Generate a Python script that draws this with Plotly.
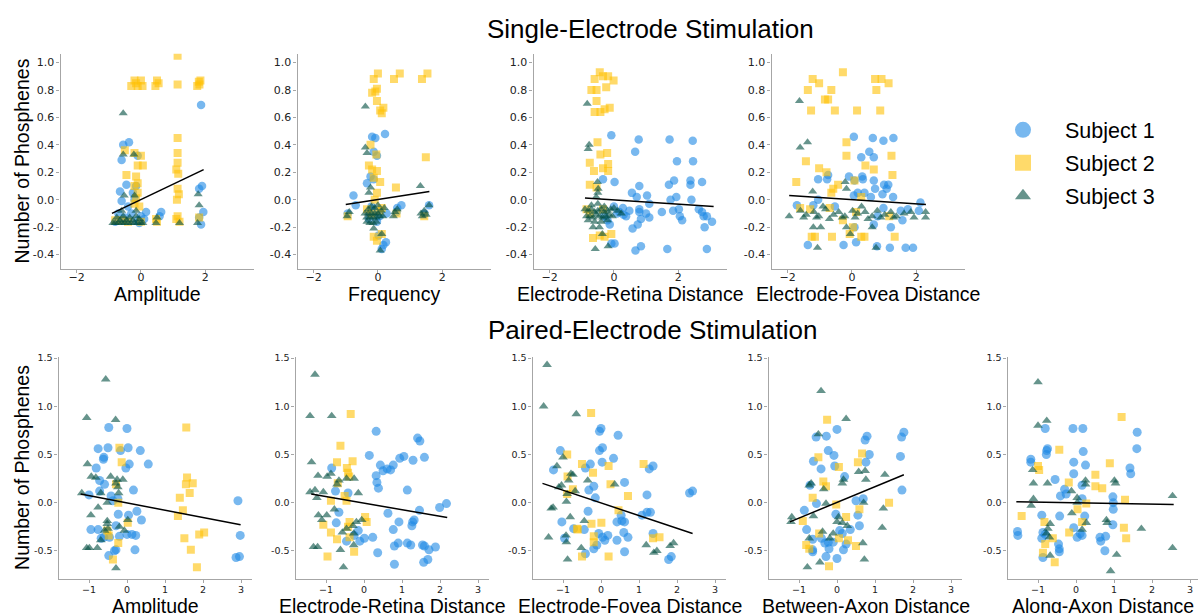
import plotly.graph_objects as go

# ---------------- DATA ----------------
subjects = ["Subject 1", "Subject 2", "Subject 3"]
colors = ["#1E88E5", "#FFC107", "#004D40"]
symbols = ["circle", "square", "triangle-up"]

top_labels = ["Amplitude", "Frequency", "Electrode-Retina Distance", "Electrode-Fovea Distance"]
bot_labels = ["Amplitude", "Electrode-Retina Distance", "Electrode-Fovea Distance",
              "Between-Axon Distance", "Along-Axon Distance"]

top_yticks = [-0.4, -0.2, 0.0, 0.2, 0.4, 0.6, 0.8, 1.0]
top_yticktext = ["-0.4", "-0.2", "0.0", "0.2", "0.4", "0.6", "0.8", "1.0"]
top_xticks = [-2, 0, 2]
top_xticktext = ["\u22122", "0", "2"]
bot_yticks = [-0.5, 0.0, 0.5, 1.0, 1.5]
bot_yticktext = ["-0.5", "0.0", "0.5", "1.0", "1.5"]
bot_xticks = [-1, 0, 1, 2, 3]
bot_xticktext = ["\u22121", "0", "1", "2", "3"]

# --- Single-electrode: Amplitude
t_amp_s1_x = [-0.55, -0.37, -0.6, -0.1, -0.45, -0.65, -0.15, -0.2, -0.6, 0.16, 0.63, 0.58, 1.87, 1.9, 1.81, 1.94, 1.81, 1.87,
              -0.7, -0.5, -0.3, -0.1, 0.0, -0.8, -0.4, -0.25, 0.1, -0.55, -0.05]
t_amp_s1_y = [0.40, 0.42, 0.29, 0.32, 0.11, 0.06, 0.10, 0.00, -0.01, -0.09, -0.09, -0.12, 0.69, 0.10, 0.08, -0.09, -0.13, -0.18,
              -0.10, -0.13, -0.10, -0.15, -0.12, -0.16, -0.05, 0.05, -0.14, -0.15, -0.17]
t_amp_s2_x = [-0.3, -0.2, -0.1, 0.0, 0.05, -0.15, 0.45, 0.5, 0.55, 1.14, 1.14, 1.75, 1.8, 1.85, 1.82,
              1.14, 1.14, 1.14, 1.1, 1.16, 1.14, 1.18, 1.12, 1.14, 1.2, 1.1,
              -0.2, 0.0, -0.1, 0.06, -0.45, -0.15, -0.1, -0.2, -0.1, -0.15, -0.2, -0.05, -0.5,
              0.47, 0.5, 1.81, -0.8, -0.4, 0.0, -0.6]
t_amp_s2_y = [0.83, 0.87, 0.83, 0.87, 0.83, 0.85, 0.83, 0.87, 0.85, 1.05, 0.84, 0.83, 0.86, 0.87, 0.84,
              0.45, 0.34, 0.27, 0.22, 0.19, 0.08, 0.04, 0.00, -0.12, -0.16, -0.14,
              0.34, 0.32, 0.25, 0.25, 0.18, 0.17, 0.12, 0.10, 0.05, 0.01, -0.03, -0.05, 0.36,
              -0.14, -0.16, -0.13, -0.15, -0.16, -0.16, -0.15]
t_amp_s3_x = [-0.55, -0.55, -0.22, -0.52, -0.2, -0.87, -0.8, -0.7, -0.6, -0.5, -0.4, -0.3, -0.2, -0.1, 0.0, 0.06,
              -0.75, -0.55, -0.35, -0.15, -0.05, -0.65, -0.45, -0.25, 0.47, 0.5, 1.78, 1.81, 1.76, 1.2, -0.6, -0.15]
t_amp_s3_y = [0.63, 0.33, 0.33, 0.03, 0.03, -0.17, -0.17, -0.17, -0.17, -0.17, -0.17, -0.17, -0.17, -0.17, -0.17, -0.17,
              -0.13, -0.12, -0.13, -0.12, -0.14, -0.15, -0.15, -0.15, -0.17, -0.13, 0.04, -0.04, -0.17, -0.17, -0.08, -0.08]

# --- Single-electrode: Frequency
t_frq_s1_x = [-0.18, -0.08, 0.22, -0.13, -0.03, -0.23, -0.34, -0.13, -0.76, -0.69, 0.73, 0.58, 1.59, 0.27, -0.03, 0.02,
              0.25, 0.17, 0.12, -0.28, -0.94, -0.1, 0.05, -0.2, 1.45, 0.6]
t_frq_s1_y = [0.46, 0.45, 0.48, 0.35, 0.32, 0.17, 0.12, 0.15, 0.03, -0.04, -0.04, -0.09, -0.04, -0.10, -0.16, -0.26,
              -0.31, -0.33, -0.36, -0.14, -0.10, -0.08, -0.12, -0.05, -0.10, -0.06]
t_frq_s2_x = [-0.13, 0.0, 0.5, 0.68, 1.37, 1.54, -0.03, -0.18, -0.08, -0.03, 0.07, 0.17, 0.12, -0.23, -0.05, 1.49,
              -0.28, -0.18, -0.03, -0.13, 0.07, -0.03, 0.56, -0.34, 0.12, -0.13, -0.03, 0.12, 0.58, 1.44, -0.94, -0.2,
              0.05, -0.1]
t_frq_s2_y = [0.88, 0.92, 0.88, 0.92, 0.88, 0.92, 0.81, 0.78, 0.79, 0.72, 0.65, 0.67, 0.63, 0.40, 0.33, 0.31,
              0.25, 0.22, 0.21, 0.16, 0.13, 0.05, 0.09, -0.07, -0.06, -0.27, -0.30, -0.25, -0.10, -0.12, -0.12, -0.10,
              -0.08, 0.0]
t_frq_s3_x = [-0.39, -0.39, -0.34, -0.23, -0.28, 1.32, -0.96, -0.89, 0.53, 0.48, 1.34, 1.44, 1.59, -0.13, 0.12, 0.07,
              -0.34, -0.4, -0.3, -0.2, -0.1, 0.0, 0.1, 0.2, -0.35, -0.25, -0.15, -0.05, 0.05, 0.15, -0.3, -0.2, -0.1,
              0.0, -0.25, -0.15, -0.05, 1.38, 1.5, 0.6]
t_frq_s3_y = [0.68, 0.38, 0.34, 0.09, 0.05, 0.10, -0.12, -0.09, -0.09, -0.12, -0.10, -0.08, -0.04, -0.21, -0.25, -0.37,
              -0.16, -0.10, -0.10, -0.10, -0.10, -0.10, -0.08, -0.06, -0.13, -0.13, -0.13, -0.13, -0.12, -0.12, -0.07,
              -0.05, -0.06, -0.04, -0.17, -0.17, -0.16, -0.12, -0.11, -0.07]

# --- Single-electrode: Electrode-Retina Distance
t_ret_s1_x = [-0.08, 0.77, 1.73, 2.45, 0.66, 1.96, 2.46, -0.34, 0.02, 1.71, 1.87, 2.38, 2.38, 2.74, 0.79, 0.56, 0.71,
              1.03, 1.76, 1.94, 2.41, 0.0, 0.28, 0.48, 0.79, 1.1, 1.84, 2.02, 2.64, 2.74, 1.49, 2.05, 2.79, 2.12, 2.89,
              3.05, 2.82, 1.1, 0.84, 0.74, 0.58, 0.38, -0.13, 0.02, -0.08, 0.67, 0.84, 1.66, 2.89, 0.79, 0.17, -0.3,
              -0.2, 0.1, 0.3, 1.0]
t_ret_s1_y = [0.47, 0.44, 0.44, 0.43, 0.35, 0.28, 0.28, 0.15, 0.13, 0.11, 0.14, 0.14, 0.11, 0.13, 0.10, 0.05, 0.02,
              0.03, 0.0, 0.02, 0.0, -0.05, -0.06, -0.08, -0.07, -0.03, -0.08, -0.07, -0.07, -0.09, -0.09, -0.12, -0.12,
              -0.15, -0.12, -0.16, -0.20, -0.13, -0.14, -0.18, -0.21, -0.12, -0.18, -0.32, -0.32, -0.37, -0.34, -0.36,
              -0.36, -0.09, -0.09, -0.12, -0.15, -0.10, -0.11, -0.10]
t_ret_s2_x = [-0.44, -0.6, -0.34, -0.18, -0.01, -0.24, -0.7, -0.54, -0.54, -0.6, -0.42, -0.29, -0.13, -0.51, -0.42,
              -0.21, -0.75, -0.62, -0.34, -0.18, -0.18, -0.75, -0.54, -0.85, -0.65, -0.44, -0.08, -0.29, -0.34, -0.75]
t_ret_s2_y = [0.93, 0.88, 0.90, 0.90, 0.87, 0.82, 0.80, 0.80, 0.72, 0.64, 0.64, 0.66, 0.67, 0.42, 0.33,
              0.34, 0.27, 0.21, 0.23, 0.26, 0.21, 0.11, 0.09, -0.07, -0.28, -0.26, -0.25, -0.27, -0.07, -0.10]
t_ret_s3_x = [-0.83, -0.77, -0.8, -0.51, -0.49, -0.9, -0.8, -0.7, -0.6, -0.5, -0.4, -0.3, -0.2, -0.1, 0.0, 0.12,
              -0.85, -0.75, -0.65, -0.55, -0.45, -0.35, -0.25, -0.15, -0.05, -0.8, -0.6, -0.4, -0.2, -0.7, -0.5, -0.3,
              0.23, -0.36, -0.58, -0.18, -0.65, -0.45, -0.55, -0.5]
t_ret_s3_y = [0.70, 0.40, 0.37, 0.13, 0.08, -0.07, -0.08, -0.07, -0.09, -0.08, -0.07, -0.09, -0.08, -0.07, -0.06, -0.08,
              -0.12, -0.12, -0.13, -0.11, -0.12, -0.13, -0.12, -0.11, -0.12, -0.15, -0.16, -0.16, -0.15, -0.04, -0.03,
              -0.05, -0.10, -0.25, -0.36, -0.34, -0.20, -0.20, 0.02, 0.05]

# --- Single-electrode: Electrode-Fovea Distance
t_fov_s1_x = [0.06, 0.65, 0.98, 1.29, 0.54, 0.68, 0.29, -1.05, -0.74, -0.77, -0.09, 0.08, 0.32, 0.34, 0.68, 1.0, 1.13,
              1.08, 0.72, 0.39, 0.18, 0.95, 0.06, 0.59, 1.28, -1.05, 2.13, -1.71, -1.2, -0.53, 0.98, 1.52, 1.74, 2.08,
              0.8, 1.57, 1.21, 0.68, 0.08, -1.37, -0.26, 0.13, 0.78, 1.18, 1.67, 1.9]
t_fov_s1_y = [0.46, 0.45, 0.43, 0.45, 0.35, 0.31, 0.31, 0.15, 0.18, 0.15, 0.17, 0.14, 0.17, 0.15, 0.14, 0.11, 0.11,
              0.08, 0.08, 0.05, 0.05, 0.04, 0.03, 0.02, 0.02, 0.0, -0.02, -0.04, -0.04, -0.05, -0.06, -0.08, -0.07, -0.08,
              -0.12, -0.15, -0.20, -0.18, -0.20, -0.33, -0.33, -0.31, -0.34, -0.35, -0.35, -0.35]
t_fov_s2_x = [-1.22, -0.28, -1.02, -1.37, -0.64, -0.84, -0.74, -1.27, -0.53, 0.16, 0.88, 0.72, 0.92, 1.14, 0.76, -0.17,
              -0.17, 1.23, -1.43, 0.42, 0.68, -1.02, -0.79, 1.26, -1.73, 0.08, -0.43, -0.58, -0.64, 0.29, -1.61, -1.3,
              -0.69, 0.13, -0.28, 0.03, -0.07, -1.25, -1.15, -0.62, 0.29, 0.39, 1.33, 1.16]
t_fov_s2_y = [0.88, 0.93, 0.85, 0.80, 0.80, 0.73, 0.73, 0.65, 0.65, 0.65, 0.65, 0.88, 0.88, 0.85, 0.80, 0.42,
              0.32, 0.32, 0.28, 0.25, 0.22, 0.23, 0.20, 0.18, 0.13, 0.14, 0.11, 0.08, 0.05, 0.02, -0.06, -0.07,
              -0.06, -0.09, -0.15, -0.20, -0.25, -0.27, -0.27, -0.27, -0.27, -0.27, -0.27, -0.12]
t_fov_s3_x = [-1.63, -1.38, -1.61, -0.21, -0.17, -1.22, -1.95, -1.07, 0.75, -1.2, -0.97, -0.05, -0.17, 0.63, 2.29, 2.29,
              1.83, 1.93, -1.6, -1.42, -1.18, -1.03, -0.82, -0.57, -0.41, -0.22, 0.02, 0.18, 0.41, 0.63, 0.79, 1.02,
              1.21, 1.38, 1.62, -1.5, -1.1, -0.7, -0.3, 0.1, 0.5, 0.9, 1.3, -0.9, 0.3]
t_fov_s3_y = [0.72, 0.42, 0.38, 0.13, 0.08, 0.06, -0.12, -0.35, -0.35, -0.20, -0.20, -0.25, -0.20, -0.20, -0.09, -0.13,
              -0.09, -0.13, -0.08, -0.11, -0.09, -0.12, -0.07, -0.11, -0.09, -0.12, -0.08, -0.10, -0.09, -0.12, -0.08,
              -0.11, -0.09, -0.12, -0.10, -0.13, -0.13, -0.14, -0.13, -0.13, -0.14, -0.13, -0.13, -0.05, -0.05]

# --- Paired-electrode: Amplitude
b_amp_s1_x = [-0.48, 0.0, -0.76, -0.5, 0.03, 0.35, -0.17, -0.61, -0.62, -0.81, 0.06, 0.56, -0.03, -0.72, -0.59, -0.72,
              0.17, -1.0, -0.42, -0.24, -0.37, -0.23, 0.26, 0.38, 0.04, -0.76, -0.29, -0.61, -0.2, 0.0, 0.13, 0.23,
              -0.68, -0.46, -0.29, -0.33, 0.21, -0.48, 2.92, 2.98, 2.87, 2.96, -0.95]
b_amp_s1_y = [0.78, 0.77, 0.56, 0.57, 0.57, 0.54, 0.54, 0.47, 0.45, 0.36, 0.40, 0.40, 0.36, 0.23, 0.19, 0.12,
              0.13, 0.08, 0.07, 0.04, 0.02, -0.12, -0.09, -0.18, -0.13, -0.28, -0.24, -0.36, -0.35, -0.33, -0.33, -0.34,
              -0.37, -0.36, -0.49, -0.50, -0.49, -0.55, 0.02, -0.34, -0.57, -0.56, -0.28]
b_amp_s2_x = [1.56, -0.2, -0.14, 1.58, 1.55, 1.73, 1.65, 1.39, -0.29, -0.23, 1.47, 1.34, 0.02, 2.03, 1.9, 1.51,
              1.68, 1.84, -0.23, -0.37, -0.52, -0.48]
b_amp_s2_y = [0.78, 0.57, 0.42, 0.26, 0.19, 0.20, 0.10, 0.05, 0.19, 0.0, -0.08, -0.14, -0.21, -0.31, -0.33, -0.37,
              -0.49, -0.67, -0.42, -0.59, -0.29, -0.34]
b_amp_s3_x = [-0.56, -1.06, -0.3, -1.04, -0.94, -0.82, -0.43, -0.26, -0.11, -0.29, -0.24, -1.19, -0.69, -0.22, -0.52,
              -0.76, -0.95, -0.52, -0.52, 0.02, -0.2, -0.5, -0.07, -0.69, -1.06, -0.99, -0.78, -0.29, -0.59]
b_amp_s3_y = [1.28, 0.88, 0.86, 0.40, 0.27, 0.26, 0.27, 0.24, 0.24, 0.20, 0.16, 0.10, 0.10, 0.10, 0.0,
              -0.05, -0.13, -0.19, -0.22, -0.18, -0.25, -0.27, -0.29, -0.39, -0.47, -0.47, -0.47, -0.68, -0.29]

# --- Paired-electrode: Electrode-Retina Distance
b_ret_s1_x = [0.32, 1.41, 1.47, 0.14, 1.05, 0.94, 1.59, 1.29, 0.43, 0.77, -0.85, 0.5, 0.61, 0.7, 0.32, 0.34, 0.38,
              1.14, -0.75, -0.42, 2.17, 1.99, 1.46, -0.66, 0.63, 1.32, 0.92, 1.28, -0.73, 1.26, -0.15, 0.77, -0.26,
              0.01, -0.11, 0.23, -0.46, 0.9, 1.14, 1.23, 0.8, 1.54, 1.88, 1.71, 0.36, 1.68, 1.57, 0.8, 1.59]
b_ret_s1_y = [0.74, 0.67, 0.64, 0.49, 0.48, 0.46, 0.47, 0.44, 0.39, 0.39, 0.36, 0.33, 0.35, 0.34, 0.28, 0.21, 0.15,
              0.13, 0.12, 0.10, -0.01, -0.05, -0.08, -0.10, -0.11, -0.18, -0.20, -0.20, -0.21, -0.24, -0.29, -0.28,
              -0.34, -0.37, -0.40, -0.36, -0.40, -0.42, -0.42, -0.44, -0.45, -0.44, -0.46, -0.49, -0.52, -0.59, -0.62,
              -0.64, -0.45]
b_ret_s2_x = [-0.35, -0.62, -0.71, -0.3, -0.45, -0.42, -0.39, -0.69, -0.51, -0.46, -0.87, 0.03, 0.07, -0.38, -1.07,
              -0.42, -0.87, -0.71, -0.26, -0.96, -0.38]
b_ret_s2_y = [0.92, 0.59, 0.42, 0.43, 0.36, 0.31, 0.27, 0.20, 0.07, 0.02, 0.02, -0.15, -0.20, -0.20, -0.23,
              -0.25, -0.31, -0.38, -0.51, -0.56, -0.36]
b_ret_s3_x = [-1.29, -1.42, -0.85, -1.38, -1.21, -0.97, -0.87, -0.66, -0.71, -0.46, -0.26, -1.42, -1.29, -1.07, -1.24,
              -0.15, -0.78, -1.2, -0.98, -1.11, -0.06, -0.2, -0.29, -0.46, -0.57, -0.27, -1.33, -1.22, -0.62, -0.27,
              -0.54]
b_ret_s3_y = [1.33, 0.90, 0.90, 0.42, 0.28, 0.27, 0.30, 0.23, 0.19, 0.25, 0.25, 0.11, 0.13, 0.11, 0.05,
              0.10, -0.07, -0.13, -0.13, -0.18, -0.18, -0.20, -0.24, -0.27, -0.31, -0.32, -0.46, -0.46, -0.49, -0.44,
              -0.67]

# --- Paired-electrode: Electrode-Fovea Distance
b_fov_s1_x = [0.0, -0.04, 0.45, -1.07, -0.04, 0.04, 0.33, -1.25, -0.28, -0.41, 1.37, 1.27, 0.03, -0.19, -0.32, 0.62,
              -0.15, 1.21, 2.33, 2.41, -0.34, 1.08, 1.3, 1.21, -1.03, 0.53, 0.55, 0.42, 0.62, 0.6, 1.37, -0.06, 0.18,
              0.04, 0.71, 0.1, 0.42, -0.96, -0.19, -0.11, -0.41, 0.62, 1.78, 1.85, -0.72, -0.44]
b_fov_s1_y = [0.77, 0.74, 0.70, 0.54, 0.54, 0.57, 0.46, 0.34, 0.40, 0.36, 0.38, 0.35, 0.42, 0.17, 0.13, 0.21,
              0.05, 0.08, 0.10, 0.12, -0.09, -0.13, -0.10, -0.10, -0.20, -0.13, -0.19, -0.20, -0.20, -0.31, -0.32,
              -0.32, -0.34, -0.36, -0.36, -0.39, -0.39, -0.37, -0.48, -0.44, -0.53, -0.51, -0.59, -0.56, -0.27, -0.28]
b_fov_s2_x = [-0.26, -0.89, -0.5, 0.2, 1.12, -0.21, -0.88, 0.25, -0.74, 0.71, -0.89, 0.46, -0.25, 0.01, -0.61, -0.19,
              -0.19, 1.37, 1.54, -0.5, 0.2, -0.63]
b_fov_s2_y = [0.93, 0.50, 0.40, 0.38, 0.40, 0.31, 0.27, 0.19, 0.14, 0.07, 0.09, -0.08, -0.22, -0.21, -0.28, -0.35,
              -0.41, -0.37, -0.36, -0.56, -0.56, -0.27]
b_fov_s3_x = [-1.42, -1.51, -0.65, -1.0, -1.16, -0.79, -0.74, -0.85, -0.35, -1.04, -1.11, 0.36, -0.68, -0.89, -0.91,
              -1.26, -1.31, -0.81, -0.44, -1.38, -0.92, -0.91, -0.52, 1.19, 1.47, 1.39, 1.82, 1.91, -0.88]
b_fov_s3_y = [1.43, 1.00, 0.92, 0.47, 0.38, 0.30, 0.29, 0.23, 0.23, 0.18, 0.16, 0.19, 0.12, 0.09, 0.01,
              -0.05, -0.06, -0.15, -0.19, -0.36, -0.34, -0.41, -0.47, -0.44, -0.50, -0.52, -0.45, -0.42, -0.59]

# --- Paired-electrode: Between-Axon Distance
b_bax_s1_x = [0.0, -0.55, -0.28, 0.79, 0.74, 1.76, 1.7, -0.23, -0.08, 0.85, 1.67, -0.62, -0.06, 0.76, -0.42, 0.2,
              -0.71, 1.71, 0.5, -0.54, 0.69, -0.86, -0.03, 0.55, 0.59, -0.8, 0.07, 0.35, 0.14, -0.64, -0.32, -0.23,
              -0.41, -0.1, 0.24, 0.17, -0.21, -0.64, -0.64, -0.29, 0.0]
b_bax_s1_y = [0.76, 0.68, 0.69, 0.69, 0.65, 0.73, 0.68, 0.54, 0.49, 0.50, 0.48, 0.43, 0.38, 0.42, 0.35, 0.27,
              0.18, 0.13, 0.02, -0.01, 0.04, -0.08, -0.12, -0.13, -0.24, -0.28, -0.29, -0.28, -0.32, -0.38, -0.42,
              -0.41, -0.37, -0.41, -0.43, -0.49, -0.48, -0.49, -0.51, -0.56, -0.58]
b_bax_s2_x = [-0.26, -0.49, 0.66, 0.55, 0.05, -0.36, -0.29, -0.64, -0.02, 1.37, 0.59, 0.24, -0.9, -0.47, 0.05,
              0.29, 0.5, -0.81, -0.73, -0.21]
b_bax_s2_y = [0.86, 0.47, 0.51, 0.42, 0.37, 0.22, 0.17, 0.05, -0.02, 0.0, -0.07, -0.15, -0.19, -0.32, -0.37,
              -0.39, -0.45, -0.44, -0.48, -0.66]
b_bax_s3_x = [-0.42, 0.24, -0.49, 0.57, 0.74, 0.76, 1.26, -0.68, -0.73, 0.17, 0.14, -0.35, 0.7, -0.29, 1.22, -0.62,
              -1.19, -1.21, 0.04, 0.0, 0.14, 0.27, 1.19, -0.38, -0.1, -0.19, -0.73, 0.68, 0.72, -0.45, -0.78]
b_bax_s3_y = [1.16, 0.87, 0.71, 0.32, 0.33, 0.24, 0.29, 0.20, 0.18, 0.24, 0.20, 0.14, 0.0, -0.01, -0.06, -0.14,
              -0.15, -0.20, -0.15, -0.20, -0.21, -0.24, -0.26, -0.30, -0.32, -0.37, -0.37, -0.42, -0.59, -0.62, -0.67]

# --- Paired-electrode: Along-Axon Distance
b_aax_s1_x = [-0.08, 0.18, -0.81, 1.61, 1.6, -0.75, -0.77, 0.19, -0.78, -1.19, -1.19, -0.06, 0.25, 1.42, 1.44, -0.06,
              -0.55, 0.16, -0.3, -0.41, -0.26, 0.16, 0.97, 0.98, 0.98, -0.9, -0.43, 0.23, 0.97, -0.06, -1.54, -1.53,
              -0.87, -0.81, 0.11, 0.16, 0.03, -0.9, 0.63, 0.78, 0.65, -0.46, -0.44, -0.44, 0.76, -0.87]
b_aax_s1_y = [0.77, 0.77, 0.77, 0.73, 0.56, 0.56, 0.54, 0.53, 0.50, 0.45, 0.42, 0.42, 0.39, 0.36, 0.30, 0.30,
              0.24, 0.18, 0.14, 0.07, 0.09, 0.04, 0.06, 0.0, -0.07, -0.13, -0.14, -0.14, -0.23, -0.26, -0.30, -0.34,
              -0.31, -0.33, -0.32, -0.34, -0.36, -0.37, -0.36, -0.35, -0.40, -0.43, -0.48, -0.51, -0.50, -0.57]
b_aax_s2_x = [1.2, -0.44, -1.0, -0.97, 0.89, 0.51, -0.19, 0.51, 0.69, 1.29, 0.27, -1.43, -0.83, 0.16, 1.26, -0.18,
              1.32, -0.61, -0.81, -0.87, -0.56, 0.04]
b_aax_s2_y = [0.89, 0.55, 0.38, 0.34, 0.41, 0.29, 0.21, 0.17, 0.15, 0.03, -0.01, -0.14, -0.20, -0.20, -0.26, -0.31,
              -0.37, -0.37, -0.43, -0.52, -0.62, -0.07]
b_aax_s3_x = [-1.0, -1.0, -0.77, -1.14, -1.12, -0.75, 0.25, 0.25, 1.01, 1.04, -1.12, -1.18, -0.12, 0.03, 0.03, 2.54,
              -0.11, 0.8, 0.82, 0.27, -0.68, -0.74, 1.72, 0.16, -0.78, -0.7, 2.54, 1.07, -0.68, 0.91]
b_aax_s3_y = [1.25, 0.80, 0.85, 0.34, 0.20, 0.20, 0.23, 0.19, 0.23, 0.20, 0.04, -0.03, 0.12, 0.05, 0.0, 0.07,
              -0.11, -0.18, -0.21, -0.21, -0.22, -0.27, -0.27, -0.28, -0.32, -0.36, -0.47, -0.54, -0.55, -0.71]

# Regression line endpoints (x0, x1, y0, y1) per panel
top_fit_x0 = [-0.9, -1.0, -0.9, -1.95]
top_fit_x1 = [1.95, 1.6, 3.1, 2.3]
top_fit_y0 = [-0.10, -0.035, 0.013, 0.03]
top_fit_y1 = [0.22, 0.06, -0.05, -0.035]
bot_fit_x0 = [-1.22, -1.39, -1.54, -1.24, -1.57]
bot_fit_x1 = [2.99, 2.19, 2.41, 1.76, 2.57]
bot_fit_y0 = [0.09, 0.09, 0.20, -0.20, 0.01]
bot_fit_y1 = [-0.23, -0.155, -0.32, 0.29, -0.02]

top_data = [
    [(t_amp_s1_x, t_amp_s1_y), (t_amp_s2_x, t_amp_s2_y), (t_amp_s3_x, t_amp_s3_y)],
    [(t_frq_s1_x, t_frq_s1_y), (t_frq_s2_x, t_frq_s2_y), (t_frq_s3_x, t_frq_s3_y)],
    [(t_ret_s1_x, t_ret_s1_y), (t_ret_s2_x, t_ret_s2_y), (t_ret_s3_x, t_ret_s3_y)],
    [(t_fov_s1_x, t_fov_s1_y), (t_fov_s2_x, t_fov_s2_y), (t_fov_s3_x, t_fov_s3_y)],
]
bot_data = [
    [(b_amp_s1_x, b_amp_s1_y), (b_amp_s2_x, b_amp_s2_y), (b_amp_s3_x, b_amp_s3_y)],
    [(b_ret_s1_x, b_ret_s1_y), (b_ret_s2_x, b_ret_s2_y), (b_ret_s3_x, b_ret_s3_y)],
    [(b_fov_s1_x, b_fov_s1_y), (b_fov_s2_x, b_fov_s2_y), (b_fov_s3_x, b_fov_s3_y)],
    [(b_bax_s1_x, b_bax_s1_y), (b_bax_s2_x, b_bax_s2_y), (b_bax_s3_x, b_bax_s3_y)],
    [(b_aax_s1_x, b_aax_s1_y), (b_aax_s2_x, b_aax_s2_y), (b_aax_s3_x, b_aax_s3_y)],
]

# ---------------- LAYOUT ----------------
W, H = 1198, 613


def fx(px):
    return px / W


def fy(py):
    return 1 - py / H


TITLE_FONT = "Liberation Sans, Arial, sans-serif"
TICK_FONT = "DejaVu Sans, sans-serif"
AXIS_COLOR = "#a6a6a6"

top_dom_x = [(60.5, 253.5), (297.5, 490.5), (533.5, 726.5), (771.5, 964.5)]
top_dom_y = (50, 267)
top_xrange = [-2.5, 3.5]
top_yrange = [-0.507, 1.065]

bot_dom_x = [(58.6, 252.4), (295.6, 489.4), (532.6, 726.4), (768.6, 962.4), (1007.6, 1198)]
bot_dom_y = (355, 579)
bot_xranges = [[-1.8, 3.3], [-1.8, 3.3], [-1.8, 3.3], [-1.8, 3.3], [-1.8, 3.21]]
bot_yrange = [-0.795, 1.515]

sizes_top = [8.5, 8, 8]
sizes_bot = [9, 8, 8.5]

fig = go.Figure()
layout = dict(width=W, height=H, margin=dict(l=0, r=0, t=0, b=0),
              paper_bgcolor="white", plot_bgcolor="white", showlegend=True)
annotations = []


def axis_common(tickfont_size):
    return dict(showline=True, linecolor=AXIS_COLOR, linewidth=1.3, showgrid=False, zeroline=False,
                ticks="outside", ticklen=3, tickwidth=1, tickcolor=AXIS_COLOR,
                tickfont=dict(family=TICK_FONT, size=tickfont_size, color="#222222"))


panels = []
for i in range(4):
    panels.append(dict(dx=top_dom_x[i], dy=top_dom_y, xr=top_xrange, yr=top_yrange,
                       xt=(top_xticks, top_xticktext), yt=(top_yticks, top_yticktext),
                       data=top_data[i], fit=(top_fit_x0[i], top_fit_x1[i], top_fit_y0[i], top_fit_y1[i]),
                       label=top_labels[i], sizes=sizes_top, tfs=11, ylab=(i == 0), lab_y=292, xso=-6))
for i in range(5):
    panels.append(dict(dx=bot_dom_x[i], dy=bot_dom_y, xr=bot_xranges[i], yr=bot_yrange,
                       xt=(bot_xticks, bot_xticktext), yt=(bot_yticks, bot_yticktext),
                       data=bot_data[i], fit=(bot_fit_x0[i], bot_fit_x1[i], bot_fit_y0[i], bot_fit_y1[i]),
                       label=bot_labels[i], sizes=sizes_bot, tfs=9.5, ylab=(i == 0), lab_y=606, xso=-2))

for k, p in enumerate(panels):
    n = k + 1
    xa = "x" if n == 1 else f"x{n}"
    ya = "y" if n == 1 else f"y{n}"
    xk = "xaxis" if n == 1 else f"xaxis{n}"
    yk = "yaxis" if n == 1 else f"yaxis{n}"
    ax = axis_common(p["tfs"])
    layout[xk] = dict(ax, domain=[fx(p["dx"][0]), fx(p["dx"][1])], range=p["xr"], anchor=ya,
                      tickmode="array", tickvals=p["xt"][0], ticktext=p["xt"][1],
                      ticklabelstandoff=p["xso"])
    ay = axis_common(p["tfs"])
    layout[yk] = dict(ay, domain=[fy(p["dy"][1]), fy(p["dy"][0])], range=p["yr"], anchor=xa,
                      tickmode="array", tickvals=p["yt"][0], ticktext=p["yt"][1])
    for s in range(3):
        xs, ys = p["data"][s]
        fig.add_trace(go.Scatter(x=xs, y=ys, mode="markers", xaxis=xa, yaxis=ya, showlegend=False,
                                 marker=dict(symbol=symbols[s], color=colors[s], size=p["sizes"][s],
                                             opacity=0.6, line=dict(width=0)),
                                 hoverinfo="skip"))
    x0, x1, y0, y1 = p["fit"]
    fig.add_trace(go.Scatter(x=[x0, x1], y=[y0, y1], mode="lines", xaxis=xa, yaxis=ya, showlegend=False,
                             line=dict(color="black", width=1.5), hoverinfo="skip"))
    cx = (p["dx"][0] + p["dx"][1]) / 2
    annotations.append(dict(text=p["label"], x=fx(cx), y=fy(p["lab_y"]), xref="paper", yref="paper",
                            xanchor="center", yanchor="middle", showarrow=False,
                            font=dict(family=TITLE_FONT, size=19.5, color="black")))
    if p["ylab"]:
        cy = (p["dy"][0] + p["dy"][1]) / 2
        annotations.append(dict(text="Number of Phosphenes", x=fx(22), y=fy(cy), xref="paper", yref="paper",
                                xanchor="center", yanchor="middle", showarrow=False, textangle=-90,
                                font=dict(family=TITLE_FONT, size=19.5, color="black")))

annotations.append(dict(text="Single-Electrode Stimulation", x=fx(650), y=fy(25), xref="paper", yref="paper",
                        xanchor="center", yanchor="middle", showarrow=False,
                        font=dict(family=TITLE_FONT, size=26, color="black")))
annotations.append(dict(text="Paired-Electrode Stimulation", x=fx(653), y=fy(328), xref="paper", yref="paper",
                        xanchor="center", yanchor="middle", showarrow=False,
                        font=dict(family=TITLE_FONT, size=26, color="black")))

# legend entries
leg_sizes = [16, 16, 14]
for s in range(3):
    fig.add_trace(go.Scatter(x=[None], y=[None], mode="markers", name=subjects[s], legendgroup=subjects[s],
                             marker=dict(symbol=symbols[s], color=colors[s], size=leg_sizes[s], opacity=0.6,
                                         line=dict(width=0))))

layout["legend"] = dict(x=fx(981), y=fy(106), xanchor="left", yanchor="top",
                        font=dict(family=TITLE_FONT, size=21.5, color="black"),
                        itemwidth=74, tracegroupgap=2, bgcolor="rgba(0,0,0,0)", itemsizing="trace")
layout["annotations"] = annotations
fig.update_layout(**layout)
fig.write_html("out.html")
